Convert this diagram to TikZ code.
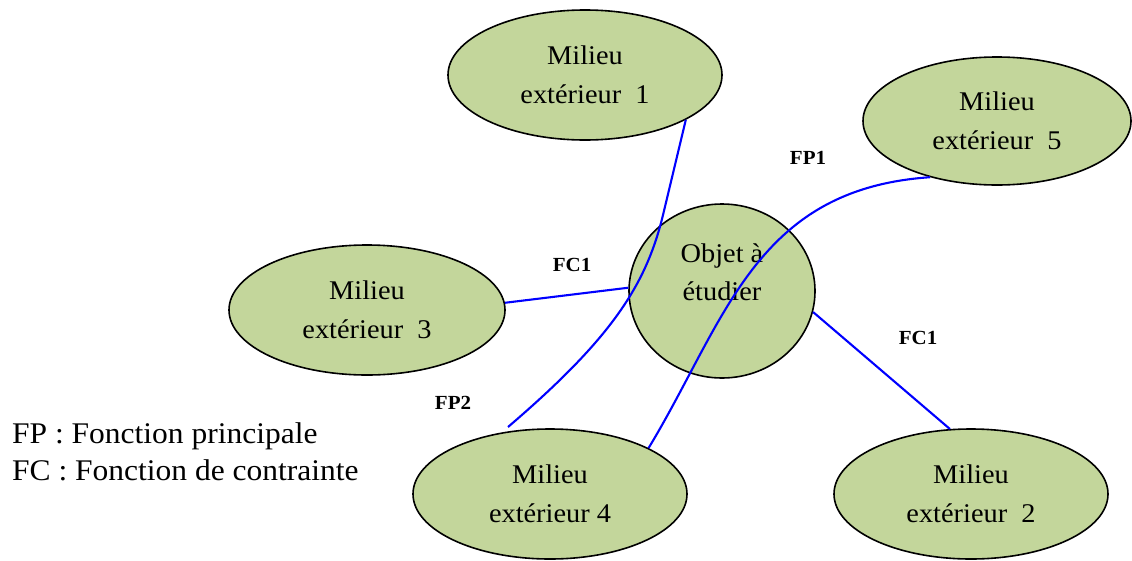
\documentclass[tikz,border=0pt]{standalone}
\usepackage{fontspec}
\setmainfont[FakeStretch=1.05]{Liberation Serif}
\usetikzlibrary{shapes.geometric}
\definecolor{milieufill}{RGB}{195,214,155}
\definecolor{linkblue}{RGB}{0,0,255}
\tikzset{
  milieu/.style={ellipse, draw=black, line width=1.6pt, fill=milieufill,
    inner sep=0pt, align=center, minimum width=274pt, minimum height=130pt,
    font=\fontsize{27}{39.5}\selectfont},
  objet/.style={ellipse, draw=black, line width=1.6pt, fill=milieufill,
    inner sep=0pt, minimum width=186pt, minimum height=174pt},
  bodytext/.style={inner sep=0pt, align=center, font=\fontsize{27}{38}\selectfont},
  link/.style={draw=linkblue, line width=2.1pt},
  fnlabel/.style={inner sep=0pt, font=\bfseries\fontsize{20}{24}\selectfont},
  legend/.style={inner sep=0pt, anchor=base west, font=\fontsize{30}{36}\selectfont}
}
\begin{document}
\begin{tikzpicture}[x=1pt, y=-1pt]
\useasboundingbox (0,0) rectangle (1132,560);

% external environments around the object
\node[milieu] (e1) at (585,75)  {Milieu\\extérieur~~1};
\node[milieu, minimum width=268pt, minimum height=128pt] (e5) at (997,121) {Milieu\\extérieur~~5};
\node[milieu, minimum width=276pt] (e3) at (367,310) {Milieu\\extérieur~~3};
\node[milieu] (e4) at (550,494) {Milieu\\extérieur 4};
\node[milieu] (e2) at (971,494) {Milieu\\extérieur~~2};

% the object under study
\node[objet] (obj) at (722,291) {};
\node[bodytext] (objtxt) at (722,272) {Objet à\\étudier};

% function links
\coordinate (fp2end) at (508,427);
\draw[link, line join=round] (e1.-24.5) -- (663,215) .. controls (646,285) and (612,338) .. (fp2end);
\draw[link] (e5.-140) .. controls (755,189) and (726,320) .. (e4.25.6);
\draw[link] (e3.3) -- (obj.178);
\draw[link] (obj.-13.3) -- (e2.108);

% link labels
\node[fnlabel] (lfc1a) at (572,265) {FC1};
\node[fnlabel] (lfp1)  at (808,158) {FP1};
\node[fnlabel] (lfp2)  at (453,403) {FP2};
\node[fnlabel] (lfc1b) at (918,338) {FC1};

% legend
\node[legend] (legfp) at (12,443) {FP : Fonction principale};
\node[legend] (legfc) at (12,480) {FC : Fonction de contrainte};
\end{tikzpicture}
\end{document}
